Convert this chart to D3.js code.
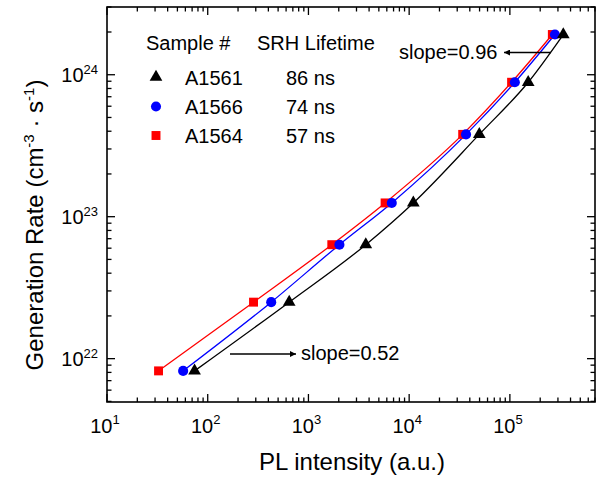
<!DOCTYPE html>
<html>
<head>
<meta charset="utf-8">
<script src="https://cdn.jsdelivr.net/npm/d3@7"></script>
<style>
  body { margin: 0; background: #fff; }
  text { font-family: "Liberation Sans", Arial, Helvetica, sans-serif; fill: #000; }
</style>
</head>
<body>
<svg id="chart" width="598" height="479"></svg>
<script>
// data
var genRate = [8.2e21, 2.5e22, 6.35e22, 1.25e23, 3.8e23, 8.85e23, 1.92e24];
var plA1561 = [74, 644, 3710, 11000, 49700, 152000, 339000];
var plA1566 = [57, 427, 2030, 6720, 36700, 112000, 280000];
var plA1564 = [32.5, 285, 1706, 5770, 34000, 104000, 264000];

var samples = ["A1561", "A1566", "A1564"];
var lifetimes = ["86 ns", "74 ns", "57 ns"];
var colors = ["#000000", "#0000ff", "#ff0000"];
var shapes = [d3.symbolTriangle, d3.symbolCircle, d3.symbolSquare];
var xDecades = [1, 2, 3, 4, 5];
var yDecades = [22, 23, 24];

var svg = d3.select("#chart");
// plot frame (note: "top" is a reserved global in browsers)
var frameL = 107, frameR = 595, frameT = 7, frameB = 402;

var x = d3.scaleLog().domain([10, 7e5]).range([frameL, frameR]);
var y = d3.scaleLog().domain([4.95e21, 3.0e24]).range([frameB, frameT]);

// minor ticks: 1..9 in each decade
function logTicks(lo, hi) {
  var out = [];
  for (var d = Math.floor(Math.log10(lo)); d <= Math.ceil(Math.log10(hi)); d++) {
    for (var m = 1; m <= 9; m++) {
      var v = m * Math.pow(10, d);
      if (v >= lo * 0.999 && v <= hi * 1.001) out.push({v: v, major: m === 1});
    }
  }
  return out;
}

var ticksG = svg.append("g").attr("stroke", "#000").attr("stroke-width", 1.3);
logTicks(10, 7e5).forEach(function(t) {
  var len = t.major ? 8 : 4.5;
  var px = x(t.v);
  ticksG.append("line").attr("x1", px).attr("x2", px).attr("y1", frameB).attr("y2", frameB - len);
  ticksG.append("line").attr("x1", px).attr("x2", px).attr("y1", frameT).attr("y2", frameT + len);
});
logTicks(4.95e21, 3.0e24).forEach(function(t) {
  var len = t.major ? 8 : 4.5;
  var py = y(t.v);
  ticksG.append("line").attr("x1", frameL).attr("x2", frameL + len).attr("y1", py).attr("y2", py);
  ticksG.append("line").attr("x1", frameR).attr("x2", frameR - len).attr("y1", py).attr("y2", py);
});

// frame
svg.append("rect")
  .attr("x", frameL).attr("y", frameT)
  .attr("width", frameR - frameL).attr("height", frameB - frameT)
  .attr("fill", "none").attr("stroke", "#000").attr("stroke-width", 1.6);

// tick labels
xDecades.forEach(function(d) {
  var t = svg.append("text")
    .attr("x", x(Math.pow(10, d)) - 2).attr("y", 433)
    .attr("text-anchor", "middle")
    .style("font-size", "20px");
  t.append("tspan").text("10");
  t.append("tspan").attr("dy", -9).style("font-size", "13px").text(d);
});
yDecades.forEach(function(d) {
  var t = svg.append("text")
    .attr("x", 98).attr("y", y(Math.pow(10, d)) + 7.5)
    .attr("text-anchor", "end")
    .style("font-size", "20px");
  t.append("tspan").text("10");
  t.append("tspan").attr("dy", -8).style("font-size", "13px").text(d);
});

// axis titles
svg.append("text")
  .attr("x", 352).attr("y", 470)
  .attr("text-anchor", "middle")
  .style("font-size", "24px")
  .text("PL intensity (a.u.)");

var yt = svg.append("text")
  .attr("transform", "translate(43,225) rotate(-90)")
  .attr("text-anchor", "middle")
  .style("font-size", "24px");
yt.append("tspan").text("Generation Rate (cm");
yt.append("tspan").attr("dy", -9).style("font-size", "15px").text("-3");
yt.append("tspan").attr("dy", 9).text(" \u00B7 s");
yt.append("tspan").attr("dy", -9).style("font-size", "15px").text("-1");
yt.append("tspan").attr("dy", 9).text(")");

// curves + markers
var series = [plA1561, plA1566, plA1564];
var line = d3.line()
  .x(function(d) { return x(d[0]); })
  .y(function(d) { return y(d[1]); })
  .curve(d3.curveMonotoneX);

var sizes = [70, 80, 80];
series.forEach(function(pl, i) {
  var pts = pl.map(function(v, j) { return [v, genRate[j]]; });
  svg.append("path")
    .datum(pts)
    .attr("d", line)
    .attr("fill", "none")
    .attr("stroke", colors[i])
    .attr("stroke-width", 1.3);
});
// red first, blue over it, black last
[2, 1, 0].forEach(function(i) {
  var pts = series[i].map(function(v, j) { return [v, genRate[j]]; });
  svg.append("g").selectAll("path")
    .data(pts).enter()
    .append("path")
    .attr("transform", function(d) { return "translate(" + x(d[0]) + "," + y(d[1]) + ")"; })
    .attr("d", d3.symbol().type(shapes[i]).size(sizes[i]))
    .attr("fill", colors[i]);
});

// legend
svg.append("text").attr("x", 146).attr("y", 50).style("font-size", "20px").text("Sample #");
svg.append("text").attr("x", 257).attr("y", 50).style("font-size", "20px").text("SRH Lifetime");
var rowY = [84.5, 114, 143];
samples.forEach(function(s, i) {
  svg.append("path")
    .attr("transform", "translate(156," + (rowY[i] - 7.5) + ")")
    .attr("d", d3.symbol().type(shapes[i]).size(sizes[i]))
    .attr("fill", colors[i]);
  svg.append("text").attr("x", 185).attr("y", rowY[i]).style("font-size", "20px").text(s);
  svg.append("text").attr("x", 286).attr("y", rowY[i]).style("font-size", "20px").text(lifetimes[i]);
});

// slope annotations
svg.append("defs").append("marker")
  .attr("id", "arr").attr("viewBox", "0 0 10 10")
  .attr("refX", 10).attr("refY", 5)
  .attr("markerWidth", 8).attr("markerHeight", 6)
  .attr("markerUnits", "userSpaceOnUse")
  .attr("orient", "auto")
  .append("path").attr("d", "M0,0 L10,5 L0,10 Z").attr("fill", "#000");

svg.append("line")
  .attr("x1", 230).attr("y1", 354).attr("x2", 296).attr("y2", 354)
  .attr("stroke", "#000").attr("stroke-width", 1.3)
  .attr("marker-end", "url(#arr)");
svg.append("text").attr("x", 301).attr("y", 360).style("font-size", "20px").text("slope=0.52");

svg.append("line")
  .attr("x1", 551).attr("y1", 52.5).attr("x2", 504).attr("y2", 52.5)
  .attr("stroke", "#000").attr("stroke-width", 1.3)
  .attr("marker-end", "url(#arr)");
svg.append("text").attr("x", 399).attr("y", 59).style("font-size", "20px").text("slope=0.96");
</script>
</body>
</html>
